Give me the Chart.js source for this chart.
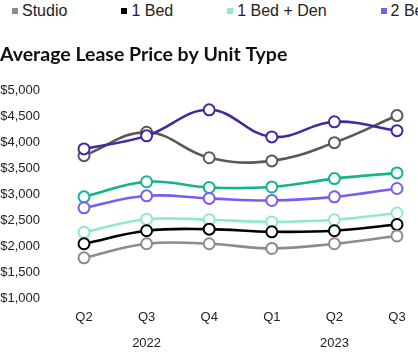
<!DOCTYPE html>
<html>
<head>
<meta charset="utf-8">
<script src="https://cdn.jsdelivr.net/npm/chart.js@4.4.1/dist/chart.umd.min.js"></script>
<style>
  html, body { margin: 0; padding: 0; background: #fff; overflow: hidden; }
  #wrap { position: relative; width: 418px; height: 357px; overflow: hidden; }
  #chart { position: absolute; left: -1px; top: 0; }
  #legend {
    position: absolute; left: 12px; top: 2px;
    display: flex; gap: 54px; white-space: nowrap;
    font: 16px "Liberation Sans", Arial, sans-serif; color: #222;
  }
  #legend .item { display: flex; align-items: center; }
  #legend .box { width: 6px; height: 6px; margin-right: 4px; }
</style>
</head>
<body>
<div id="wrap">
  <div id="legend"></div>
  <canvas id="chart" width="419" height="357"></canvas>
</div>
<script>
const quarters = ['Q2', 'Q3', 'Q4', 'Q1', 'Q2', 'Q3'];
const yearLabels = ['', '2022', '', '', '2023', ''];

const unitTypes = ['Studio', '1 Bed', '1 Bed + Den', '2 Bed', '2 Bed + Den', '3 Bed', 'Townhome'];
const unitColors = ['#8c8c8c', '#000000', '#90eac8', '#7b5cf2', '#12b48e', '#4527a0', '#595959'];

const studio = [1780, 2050, 2050, 1960, 2050, 2200];
const oneBed = [2050, 2300, 2330, 2280, 2300, 2420];
const oneBedDen = [2270, 2520, 2510, 2470, 2510, 2640];
const twoBed = [2740, 2970, 2920, 2880, 2950, 3110];
const twoBedDen = [2950, 3240, 3130, 3140, 3300, 3410];
const threeBed = [3870, 4120, 4620, 4100, 4390, 4220];
const townhome = [3740, 4190, 3700, 3640, 3990, 4510];

const seriesValues = [studio, oneBed, oneBedDen, twoBed, twoBedDen, threeBed, townhome];

const tickFont = '"Liberation Sans", Arial, sans-serif';

const datasets = unitTypes.map((name, i) => ({
    label: name,
    data: seriesValues[i],
    borderColor: unitColors[i],
    backgroundColor: '#ffffff',
    pointBackgroundColor: '#ffffff',
    pointBorderColor: unitColors[i],
    pointRadius: 5.5,
    pointBorderWidth: 2,
    borderWidth: 2.6,
    tension: 0.4,
    clip: false
}));

// legend row above the title, built from the datasets
function buildLegend() {
    const el = document.getElementById('legend');
    unitTypes.forEach((name, i) => {
        const item = document.createElement('div');
        item.className = 'item';
        const box = document.createElement('span');
        box.className = 'box';
        box.style.background = unitColors[i];
        item.appendChild(box);
        item.appendChild(document.createTextNode(name));
        el.appendChild(item);
    });
}

function drawLineChart() {
    const ctx = document.getElementById('chart').getContext('2d');
    new Chart(ctx, {
        type: 'line',
        data: {
            labels: quarters.map((q, i) => [q, yearLabels[i]]),
            datasets: datasets
        },
        options: {
            responsive: false,
            animation: false,
            layout: { padding: { left: 1, right: 21, top: 0, bottom: -4.5 } },
            scales: {
                x: {
                    offset: false,
                    grid: { display: false, drawTicks: false },
                    border: { display: false },
                    ticks: {
                        padding: 5.5,
                        color: '#222',
                        font: { family: tickFont, size: 13, lineHeight: 2 }
                    }
                },
                y: {
                    min: 1000,
                    max: 5000,
                    grid: { display: false, drawTicks: false },
                    border: { display: false },
                    afterFit: (scale) => { scale.width = 84; },
                    ticks: {
                        stepSize: 500,
                        padding: 44,
                        color: '#222',
                        font: { family: tickFont, size: 13 },
                        callback: (value) => '$' + value.toLocaleString('en-US')
                    }
                }
            },
            plugins: {
                legend: { display: false },
                tooltip: { enabled: false },
                title: {
                    display: true,
                    text: 'Average Lease Price by Unit Type',
                    align: 'start',
                    color: '#111',
                    font: { family: 'Lato, "Open Sans", sans-serif', size: 19.5, weight: 'bold' },
                    padding: { top: 43, bottom: 23.6 }
                }
            }
        }
    });
}

document.addEventListener('DOMContentLoaded', () => {
    buildLegend();
    drawLineChart();
});
</script>
</body>
</html>
